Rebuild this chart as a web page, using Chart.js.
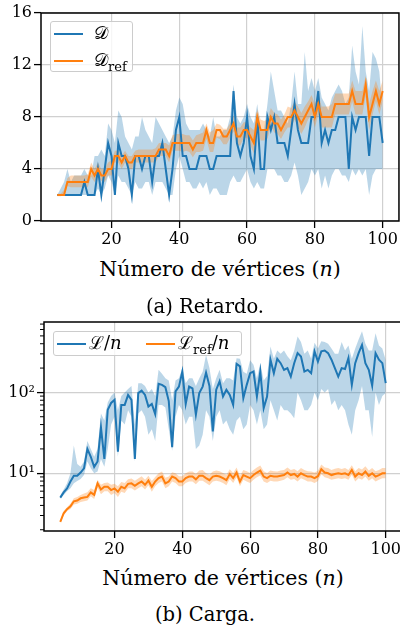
<!DOCTYPE html>
<html>
<head>
<meta charset="utf-8">
<script src="https://cdn.jsdelivr.net/npm/chart.js@4.4.1/dist/chart.umd.min.js"></script>
<style>
body { margin: 0; width: 400px; height: 630px; overflow: hidden; background: #fff; position: relative; font-family: "DejaVu Serif", serif; color: #000; }
canvas { position: absolute; left: 0; }
.lbl { position: absolute; text-align: center; font-size: 20.5px; line-height: 22px; white-space: nowrap; }
.cap { font-size: 19.5px; }
.leg { position: absolute; border: 1px solid #cccccc; border-radius: 3px; background: rgba(255,255,255,0.8); box-sizing: border-box; }
.ln { position: absolute; height: 2px; }
.lt { position: absolute; font-size: 18px; line-height: 20px; white-space: nowrap; }
</style>
</head>
<body>
<canvas id="delayChart" width="400" height="250" style="top:0"></canvas>
<canvas id="loadChart" width="410" height="250" style="top:310px"></canvas>

<div class="lbl" style="left:41px;width:358px;top:258px">Número de vértices (<i>n</i>)</div>
<div class="lbl cap" style="left:0;width:410px;top:296px">(a) Retardo.</div>
<div class="lbl" style="left:44px;width:358px;top:567px">Número de vértices (<i>n</i>)</div>
<div class="lbl cap" style="left:0;width:410px;top:604px">(b) Carga.</div>

<div class="leg" style="left:50px;top:21px;width:83px;height:51px">
  <div class="ln" style="left:3px;top:11px;width:29px;background:#1f77b4"></div>
  <div class="lt" style="left:43px;top:1px">𝒟</div>
  <div class="ln" style="left:3px;top:38px;width:29px;background:#ff7f0e"></div>
  <div class="lt" style="left:43px;top:28px">𝒟<sub style="font-size:13px">ref</sub></div>
</div>
<div class="leg" style="left:53px;top:331px;width:189px;height:25px">
  <div class="ln" style="left:3px;top:11px;width:29px;background:#1f77b4"></div>
  <div class="lt" style="left:35px;top:1px">ℒ/<i>n</i></div>
  <div class="ln" style="left:92px;top:11px;width:29px;background:#ff7f0e"></div>
  <div class="lt" style="left:124px;top:1px">ℒ<sub style="font-size:13px">ref</sub>/<i>n</i></div>
</div>

<script>
// number of vertices
const n = [4,5,6,7,8,9,10,11,12,13,
  14,15,16,17,18,19,20,21,22,23,
  24,25,26,27,28,29,30,31,32,33,
  34,35,36,37,38,39,40,41,42,43,
  44,45,46,47,48,49,50,51,52,53,
  54,55,56,57,58,59,60,61,62,63,
  64,65,66,67,68,69,70,71,72,73,
  74,75,76,77,78,79,80,81,82,83,
  84,85,86,87,88,89,90,91,92,93,
  94,95,96,97,98,99,100];

// (a) Retardo
const delayMean = [2,2,2,2,2,2,2,2,3,2,
  2,2,4,2,4,6,5,2,6,5,
  5,4,2,5,5,4,5,5,3,5,
  5,6,4,2,4,7,8,5,5,4,
  4,4,5,5,5,4,4,5,5,5,
  5,5,10,6,5,6,8,5,4,8,
  4,4,8,7,8,6,6,6,5,7,
  9,7,6,6,6,8,8,10,6,7,
  6,7,7,8,8,8,4,8,7,8,
  8,8,5,8,8,8,6];
const delayHigh = [2,2.5,3,4,3,3.5,3.5,3.5,4,3.5,
  3.5,5,5,5.5,5,7.5,7,6,8.5,8,
  6.5,6,5.5,6.5,6.5,8,7,6.5,6,8,
  7.5,7,6.5,6,6.5,8.5,9.5,9,7.5,7,
  7,7,7,7.5,7,6.5,8,6.5,6.5,7,
  7,8,10.5,8,7.5,8,9,8,7.5,9,
  7,7,9,11.5,10,8.5,8.5,8,7.5,9,
  11.5,9,9,13,10,11,10,11,9.5,9,
  8.5,9.5,10,10.5,10,9,9.5,13.5,11.5,10.5,
  15,11.5,10,13,12.5,11.5,8.5];
const delayLow = [2,2,2,2,2,2,2,2,2,2,
  2,2,2.5,2,2.5,3.5,3,2,3.5,3,
  3,2.5,2,3,2.5,2.5,3,3,2,3,
  3,3,2.5,2,2,4,5,4,3,3,
  2.5,2.5,3,2.5,3,2,2.5,2.5,2,2,
  2,3,3.5,3,3,3.5,4,3,2.5,3,
  2.5,2.5,4,4,4,3.5,3.5,3,3,3.5,
  4.5,3.5,2,2.5,3,4,3.5,4,2.5,3.5,
  2.5,3.5,4,4,3.5,3.5,3,4,3.5,4,
  3.5,4,2,3.5,4,4,4];
const delayRefMean = [2,2,2,3,3,3,3,3,3,3,
  4,3.5,4,3.5,3.5,4,4,5,5,4.5,
  5,4.5,4.5,5,5,5,5,5,5,5,
  5.5,5.5,5.5,5,6,6,6,6,6,6,
  5.5,6,6,6,7,6,6,7,7,6.5,
  6.5,7,7.5,6.5,6.5,7,7,6.5,6,8,
  7,7,7,8,7.5,7.5,7,7.5,8,8,
  8.5,8,7.5,8,8.5,9,8,9,8,8,
  8,8,9,9,9,9,9,10,9,9,
  9,10.5,8,9,10,9,10];
const delayRefHigh = [2.1,2.1,2.4,3.3,3.5,3.5,3.5,3.5,3.5,3.6,
  4.5,4,4.5,4,4,4.5,4.7,5.4,5.4,5,
  5.4,5,5,5.4,5.5,5.5,5.5,5.5,5.5,5.6,
  6,6,6,5.8,6.6,6.7,6.7,6.7,6.6,6.6,
  6.2,6.6,6.7,6.8,7.5,6.8,7,7.5,7.4,7.1,
  7.1,7.5,8.1,7.2,7.2,7.6,7.6,7.2,7,8.6,
  7.8,7.7,7.8,8.7,8.3,8.2,7.8,8.2,8.8,8.7,
  9.2,8.8,8.3,8.8,9.2,9.7,9,9.8,8.8,8.8,
  8.8,9,9.8,9.8,9.8,9.8,9.8,10.8,10,10,
  10,11.2,9,10,10.8,10,10.8];
const delayRefLow = [1.9,1.9,2,2.7,2.6,2.6,2.6,2.6,2.6,2.6,
  3.4,3,3.4,3.1,3,3.5,3.5,4.5,4.5,4,
  4.5,4,4,4.5,4.5,4.5,4.5,4.5,4.5,4.5,
  5,5,5,4.5,5.4,5.4,5.4,5.3,5.4,5.3,
  4.9,5.3,5.3,5.4,6.3,5.3,5.3,6.4,6.3,5.9,
  5.9,6.4,6.9,5.8,5.8,6.4,6.4,5.8,5.2,7.2,
  6.2,6.2,6.3,7.3,6.8,6.7,6.3,6.8,7.2,7.2,
  7.8,7.2,6.7,7.2,7.8,8.2,7.2,8.2,7.2,7.2,
  7.2,7.2,8.2,8.2,8.2,8.2,8.2,9.2,8.2,8.2,
  8.2,9.6,7,8.2,9.2,8.2,9.2];

// (b) Carga
const loadMean = [5.0,5.8,6.5,7.9,9.3,9.3,10.2,11.5,20,16,
  12,14,37,15,61,74,81,18.5,70,70,
  93,81,15,98,105,93,67,72,54,128,
  124,116,78,21,103,118,181,72,118,112,
  53,98,118,176,120,33,108,137,89,108,
  93,70,226,210,85,124,173,181,89,181,
  64,89,254,173,260,230,190,200,157,230,
  306,278,181,190,173,322,241,322,330,306,
  254,200,157,200,195,266,124,230,306,387,
  230,190,121,306,254,230,130];
const loadHigh = [5.3,6.3,7.5,10,22,13,12,14,25,20,
  16,20,55,45,75,90,100,60,90,100,
  110,120,40,130,130,120,100,110,90,190,
  170,150,140,80,140,150,200,130,150,150,
  120,150,180,290,200,110,150,190,130,150,
  150,140,265,260,180,170,250,220,150,230,
  140,160,370,260,330,300,330,280,250,330,
  490,420,300,330,260,410,350,430,420,400,
  350,300,300,420,330,380,260,350,450,570,
  400,330,330,540,380,350,250];
const loadLow = [4.8,5.4,6,6.5,7.5,8,8.5,9.5,14,11.5,
  10,10.5,15,12,20,40,50,16,45,40,
  60,50,14,55,60,50,30,35,25,70,
  70,65,35,19,50,70,60,40,50,50,
  20,22,30,60,50,25,50,60,40,45,
  35,30,45,50,35,40,70,60,40,60,
  35,40,80,60,45,70,60,60,55,48,
  100,80,60,60,70,100,80,110,100,110,
  70,80,60,70,60,40,30,60,80,120,
  60,60,28,100,70,90,98];
const loadRefMean = [2.5,3.2,3.6,3.9,4.5,4.6,4.9,5.0,5.1,5.8,
  5.4,7.5,6.3,6.8,6.8,6.2,6.5,5.9,6.8,6.5,
  7.4,7.5,7.0,7.5,7.9,7.2,8.1,6.8,7.9,8.7,
  9.1,7.5,7.9,9.1,8.7,7.9,7.9,8.7,9.1,9.1,
  8.4,9.3,9.3,8.7,8.2,9.1,9.3,9.1,8.7,8.2,
  9.8,8.7,10.2,7.9,9.5,9.1,8.7,9.5,10.2,10.8,
  9.1,8.7,9.3,9.1,9.1,9.3,9.5,10.2,9.5,9.8,
  9.1,10,9.5,9.1,9.1,8.7,9.2,11.2,10.2,10,
  9.5,9.8,10,9.8,10,9.5,11,9.1,10,9.5,
  10.5,9.3,10,9.1,9.5,10,10];
const loadRefHigh = [2.6,3.4,3.8,4.2,4.9,5.1,5.4,5.6,5.8,6.5,
  6.2,8.3,7.2,7.6,7.7,7.2,7.4,6.9,7.8,7.6,
  8.4,8.6,8.1,8.6,9.2,8.3,9.3,8.0,9.0,10,
  10.5,8.8,9.1,10.3,10,9.2,9.2,10,10.5,10.5,
  9.8,10.8,11,10,9.6,10.5,10.8,10.6,10.1,9.6,
  11.2,10.1,11.8,9.3,11,10.6,10.1,11,11.8,12.5,
  10.6,10.1,10.8,10.6,10.5,10.8,11,11.8,11,11.3,
  10.6,11.6,11,10.6,10.5,10.2,10.7,12.8,11.8,11.6,
  11,11.4,11.6,11.3,11.6,11,12.6,10.6,11.6,11.1,
  12.2,10.8,11.6,10.6,11,11.6,11.6];
const loadRefLow = [2.4,3.0,3.4,3.6,4.1,4.2,4.4,4.5,4.6,5.2,
  4.8,6.6,5.5,6,6,5.4,5.7,5.1,5.9,5.7,
  6.5,6.5,6.1,6.5,6.9,6.3,7.1,5.9,6.9,7.6,
  7.9,6.5,6.9,7.9,7.6,6.9,6.9,7.6,7.9,7.9,
  7.3,8.1,8.1,7.6,7.1,7.9,8.1,7.9,7.6,7.1,
  8.5,7.6,8.9,6.9,8.3,7.9,7.6,8.3,8.9,9.4,
  7.9,7.6,8.1,7.9,7.9,8.1,8.3,8.9,8.3,8.5,
  7.9,8.7,8.3,7.9,7.9,7.6,8,9.7,8.9,8.7,
  8.3,8.5,8.7,8.5,8.7,8.3,9.6,7.9,8.7,8.3,
  9.1,8.1,8.7,7.9,8.3,8.7,8.7];

// ticks
const xTicks = [20, 40, 60, 80, 100];
const delayTicks = [0, 4, 8, 12, 16];
const loadTicks = [10, 100];
const loadMinor = [2,3,4,5,6,7,8,9,20,30,40,50,60,70,80,90,200,300,400,500,600,700];

const blue = '#1f77b4';
const orange = '#ff7f0e';
const blueBand = 'rgba(31,119,180,0.3)';
const orangeBand = 'rgba(255,127,14,0.3)';
const font = { family: 'DejaVu Serif', size: 16 };

const pts = ys => n.map((x, i) => ({ x: x, y: ys[i] }));

function meanLine(ys, color) {
    return { data: pts(ys), borderColor: color, borderWidth: 2, pointRadius: 0, fill: false, tension: 0 };
}
function bandEdge(ys, fill, color) {
    return { data: pts(ys), borderWidth: 0, borderColor: 'rgba(0,0,0,0)', pointRadius: 0, fill: fill, backgroundColor: color, tension: 0 };
}

// box around the plot + short minor ticks
const frame = {
    id: 'frame',
    afterDraw(chart, args, opts) {
        const { ctx, chartArea: a } = chart;
        ctx.save();
        if (opts.minor) {
            const s = chart.scales.y;
            ctx.strokeStyle = '#000';
            ctx.lineWidth = 1;
            opts.minor.forEach(v => {
                const y = s.getPixelForValue(v);
                ctx.beginPath();
                ctx.moveTo(a.left - 4, y);
                ctx.lineTo(a.left, y);
                ctx.stroke();
            });
        }
        ctx.strokeStyle = '#000';
        ctx.lineWidth = 1.5;
        ctx.strokeRect(a.left, a.top, a.right - a.left, a.bottom - a.top);
        ctx.restore();
    }
};

const grid = { color: '#d0d0d0', lineWidth: 1.2, tickColor: '#000', tickLength: 7, tickWidth: 1.3 };

function xScale() {
    return {
        type: 'linear', min: -0.8, max: 104.8,
        afterBuildTicks: s => { s.ticks = xTicks.map(v => ({ value: v })); },
        afterFit: s => { s.height = 29; },
        grid: grid,
        border: { display: false },
        ticks: { font: font, color: '#000', padding: 2, maxRotation: 0, autoSkip: false }
    };
}

function buildDatasets(mean, lo, hi, refMean, refLo, refHi) {
    return [
        meanLine(refMean, orange),
        meanLine(mean, blue),
        bandEdge(refHi, '+1', orangeBand),
        bandEdge(refLo, false, orangeBand),
        bandEdge(hi, '+1', blueBand),
        bandEdge(lo, false, blueBand)
    ];
}

const common = {
    responsive: false,
    animation: false,
    devicePixelRatio: 1,
    plugins: { legend: { display: false }, tooltip: { enabled: false } }
};

new Chart(document.getElementById('delayChart'), {
    type: 'line',
    data: { datasets: buildDatasets(delayMean, delayLow, delayHigh, delayRefMean, delayRefLow, delayRefHigh) },
    plugins: [frame],
    options: {
        ...common,
        layout: { padding: { top: 13, right: 1, left: 0, bottom: 0 } },
        plugins: { ...common.plugins, frame: {} },
        scales: {
            x: xScale(),
            y: {
                type: 'linear', min: 0, max: 16,
                afterBuildTicks: s => { s.ticks = delayTicks.map(v => ({ value: v })); },
                afterFit: s => { s.width = 41; },
                grid: grid,
                border: { display: false },
                ticks: { font: font, color: '#000', padding: 2 }
            }
        }
    }
});

new Chart(document.getElementById('loadChart'), {
    type: 'line',
    data: { datasets: buildDatasets(loadMean, loadLow, loadHigh, loadRefMean, loadRefLow, loadRefHigh) },
    plugins: [frame],
    options: {
        ...common,
        layout: { padding: { top: 12, right: 8, left: 0, bottom: 0 } },
        plugins: { ...common.plugins, frame: { minor: loadMinor } },
        scales: {
            x: xScale(),
            y: {
                type: 'logarithmic', min: 1.93, max: 743,
                afterBuildTicks: s => { s.ticks = loadTicks.map(v => ({ value: v })); },
                afterFit: s => { s.width = 44; },
                grid: grid,
                border: { display: false },
                ticks: {
                    font: font, color: '#000', padding: 2,
                    callback: v => v === 10 ? '10¹' : (v === 100 ? '10²' : '')
                }
            }
        }
    }
});
</script>
</body>
</html>
